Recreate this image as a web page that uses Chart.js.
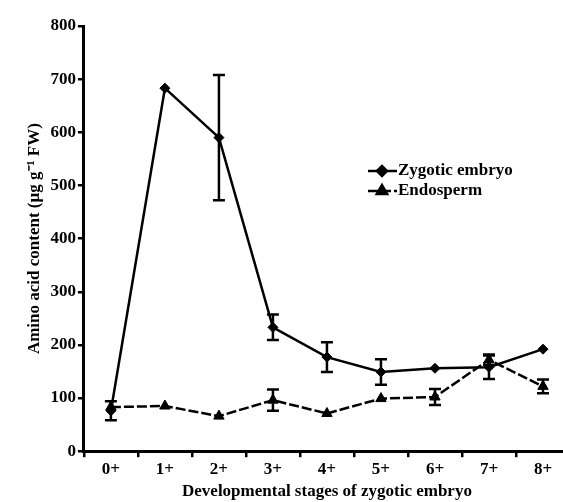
<!DOCTYPE html>
<html lang="en">
<head>
    <meta charset="UTF-8">
    <title>Amino acid content</title>
    <style>
        body {
            margin: 0;
            background: #fff;
            overflow: hidden;
        }

        .wrap {
            width: 563px;
            height: 502px;
            overflow: hidden;
        }
    </style>
</head>
<body>
    <div class="wrap">
        <canvas id="aminoChart" width="580" height="502"></canvas>
    </div>

    <script src="https://cdn.jsdelivr.net/npm/chart.js"></script>

    <script>
        // Data
        const stages = ['0+', '1+', '2+', '3+', '4+', '5+', '6+', '7+', '8+'];
        const zygotic = [76, 683, 590, 233, 177, 149, 156, 158, 192];
        const zygoticErr = [18, 0, 118, 24, 28, 24, 0, 22, 0];
        const endosperm = [83, 85, 66, 96, 71, 99, 102, 172, 122];
        const endospermErr = [0, 0, 0, 20, 0, 0, 15, 10, 13];
        const yTicks = [0, 100, 200, 300, 400, 500, 600, 700, 800];

        const serif = "'Liberation Serif', 'Times New Roman', serif";

        // vertical error bars with caps
        const errorBars = {
            id: 'errorBars',
            afterDatasetsDraw(chart) {
                const ctx = chart.ctx;
                const yScale = chart.scales.y;
                chart.data.datasets.forEach((ds, i) => {
                    if (!ds.errors) return;
                    const meta = chart.getDatasetMeta(i);
                    meta.data.forEach((pt, j) => {
                        const e = ds.errors[j];
                        if (!e) return;
                        const v = ds.data[j];
                        const top = yScale.getPixelForValue(v + e);
                        const bot = yScale.getPixelForValue(v - e);
                        ctx.save();
                        ctx.strokeStyle = '#000';
                        ctx.lineWidth = 2.5;
                        ctx.beginPath();
                        ctx.moveTo(pt.x, top);
                        ctx.lineTo(pt.x, bot);
                        ctx.moveTo(pt.x - 6, top);
                        ctx.lineTo(pt.x + 6, top);
                        ctx.moveTo(pt.x - 6, bot);
                        ctx.lineTo(pt.x + 6, bot);
                        ctx.stroke();
                        ctx.restore();
                    });
                });
            }
        };

        // legend drawn inside the plot, right of the peak
        const innerLegend = {
            id: 'innerLegend',
            afterDraw(chart) {
                const ctx = chart.ctx;
                const x0 = 368, y0 = 171, rowH = 20;
                chart.data.datasets.forEach((ds, i) => {
                    const y = y0 + i * rowH;
                    ctx.save();
                    ctx.strokeStyle = '#000';
                    ctx.lineWidth = 2.5;
                    ctx.setLineDash(ds.borderDash || []);
                    ctx.beginPath();
                    ctx.moveTo(x0, y);
                    ctx.lineTo(x0 + 29, y);
                    ctx.stroke();
                    ctx.setLineDash([]);
                    Chart.helpers.drawPoint(ctx, {
                        pointStyle: ds.pointStyle,
                        radius: ds.pointRadius,
                        rotation: 0,
                        borderWidth: 1
                    }, x0 + 14, y);
                    ctx.fillStyle = '#000';
                    ctx.font = 'bold 17px ' + serif;
                    ctx.textBaseline = 'middle';
                    ctx.fillText(ds.label, x0 + 30, y);
                    ctx.restore();
                });
            }
        };

        const ctx = document.getElementById('aminoChart').getContext('2d');
        new Chart(ctx, {
            type: 'line',
            data: {
                labels: stages,
                datasets: [{
                    label: 'Zygotic embryo',
                    data: zygotic,
                    errors: zygoticErr,
                    borderColor: '#000',
                    backgroundColor: '#000',
                    borderWidth: 2.5,
                    pointStyle: 'rectRot',
                    pointRadius: 5,
                    pointBorderWidth: 1,
                    tension: 0
                }, {
                    label: 'Endosperm',
                    data: endosperm,
                    errors: endospermErr,
                    borderColor: '#000',
                    backgroundColor: '#000',
                    borderWidth: 2.5,
                    borderDash: [10, 3],
                    pointStyle: 'triangle',
                    pointRadius: 6,
                    pointBorderWidth: 1,
                    tension: 0
                }]
            },
            options: {
                responsive: false,
                animation: false,
                layout: {
                    padding: { top: 26, left: 24, right: 10, bottom: 0 }
                },
                plugins: {
                    legend: { display: false },
                    tooltip: { enabled: false }
                },
                scales: {
                    x: {
                        offset: true,
                        grid: {
                            offset: true,
                            drawOnChartArea: false,
                            color: '#000',
                            lineWidth: 2.5,
                            tickLength: 6
                        },
                        border: { color: '#000', width: 3 },
                        ticks: {
                            color: '#000',
                            padding: 2,
                            font: { family: serif, size: 17, weight: 'bold' }
                        },
                        title: {
                            display: true,
                            text: 'Developmental stages of zygotic embryo',
                            color: '#000',
                            padding: { top: 0, bottom: 0 },
                            font: { family: serif, size: 17, weight: 'bold' }
                        }
                    },
                    y: {
                        min: 0,
                        max: 800,
                        afterBuildTicks(axis) {
                            axis.ticks = yTicks.map(v => ({ value: v }));
                        },
                        grid: {
                            drawOnChartArea: false,
                            color: '#000',
                            lineWidth: 2.5,
                            tickLength: 6
                        },
                        border: { color: '#000', width: 3 },
                        ticks: {
                            color: '#000',
                            padding: 2,
                            font: { family: serif, size: 17, weight: 'bold' }
                        },
                        title: {
                            display: true,
                            text: 'Amino acid content (\u00b5g g\u207b\u00b9 FW)',
                            color: '#000',
                            padding: { top: 0, bottom: 4 },
                            font: { family: serif, size: 17, weight: 'bold' }
                        }
                    }
                }
            },
            plugins: [errorBars, innerLegend]
        });
    </script>
</body>
</html>
